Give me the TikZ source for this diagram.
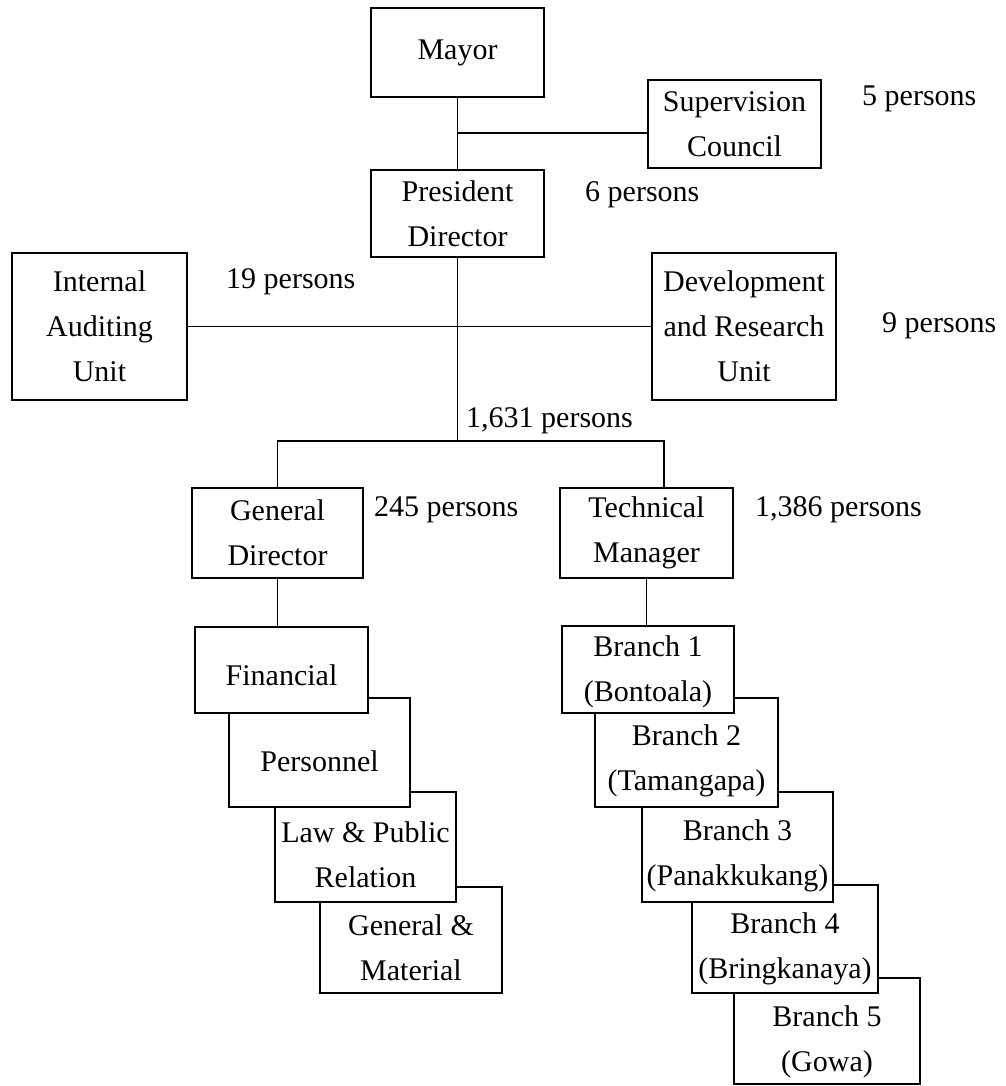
\documentclass[tikz,border=0pt]{standalone}
\usepackage{fontspec}
\setmainfont{Liberation Serif}
\begin{document}
\begin{tikzpicture}[x=1pt,y=-1pt,
  unit/.style={draw, line width=1.8pt, fill=white, inner sep=0pt, align=center,
    font=\fontsize{30}{45}\selectfont},
  caption/.style={inner sep=0pt, align=center, font=\fontsize{30}{45}\selectfont},
  tag/.style={inner sep=0pt, anchor=west, font=\fontsize{30}{36}\selectfont},
  wire/.style={line width=1.4pt}]
\useasboundingbox[fill=white] (0,0) rectangle (1005,1086);

% upper levels
\node[unit, minimum width=173pt, minimum height=89pt] (mayor) at (457.5,52.5) {Mayor};
\node[unit, minimum width=173pt, minimum height=88pt] (sup) at (734.5,124) {Supervision\\Council};
\node[unit, minimum width=173pt, minimum height=87pt] (pres) at (457.5,213.5) {President\\Director};
\node[unit, minimum width=175pt, minimum height=147pt] (audit) at (99.5,326.5) {Internal\\Auditing\\Unit};
\node[unit, minimum width=184pt, minimum height=147pt] (devres) at (744,326.5) {Development\\and Research\\Unit};
\node[unit, minimum width=171pt, minimum height=90pt] (gendir) at (277.5,533) {General\\Director};
\node[unit, minimum width=173pt, minimum height=90pt] (techman) at (646.5,533) {Technical\\Manager};

% staff counts
\node[tag] (n5) at (862,99) {5 persons};
\node[tag] (n6) at (585,195) {6 persons};
\node[tag] (n19) at (226,282) {19 persons};
\node[tag] (n9) at (882,326) {9 persons};
\node[tag] (n1631) at (466,421) {1,631 persons};
\node[tag] (n245) at (374,510) {245 persons};
\node[tag] (n1386) at (755,510) {1,386 persons};

% connectors
\coordinate (jsup) at (457.5,133);
\coordinate (jbar) at (457.5,441);
\coordinate (jright) at (664,441);
\draw[wire] (mayor.south) -- (pres.north);
\draw[wire] (jsup) -- (jsup -| sup.west);
\draw[wire] (audit.east) -- (devres.west);
\draw[wire] (pres.south) -- (jbar);
\draw[wire] (gendir.north) -- (gendir.north |- jbar) -- (jright) -- (jright |- techman.north);

% departments under the general director (stacked, front box last)
\node[unit, minimum width=182pt, minimum height=106pt] (genmat) at (411,940) {};
\node[caption] (genmatT) at (411,948) {General \&\\Material};
\node[unit, minimum width=181pt, minimum height=110pt] (lawpr) at (365.5,847) {};
\node[caption] (lawprT) at (365.5,855) {Law \& Public\\Relation};
\node[unit, minimum width=181pt, minimum height=109pt] (pers) at (319.5,752.5) {};
\node[caption] (persT) at (319.5,761) {Personnel};
\node[unit, minimum width=173pt, minimum height=86pt] (fin) at (281.5,670) {};
\node[caption] (finT) at (281.5,675) {Financial};

% branches under the technical manager (stacked, front box last)
\node[unit, minimum width=186pt, minimum height=106pt] (br5) at (827,1031) {};
\node[caption] (br5T) at (827,1042) {Branch 5\\(Gowa)};
\node[unit, minimum width=186pt, minimum height=108pt] (br4) at (785,939) {};
\node[caption] (br4T) at (785,949) {Branch 4\\(Bringkanaya)};
\node[unit, minimum width=191pt, minimum height=110pt] (br3) at (737.5,847) {};
\node[caption] (br3T) at (737.5,856) {Branch 3\\(Panakkukang)};
\node[unit, minimum width=183pt, minimum height=109pt] (br2) at (686.5,752.5) {};
\node[caption] (br2T) at (686.5,761) {Branch 2\\(Tamangapa)};
\node[unit, minimum width=172pt, minimum height=87pt] (br1) at (648,669.5) {};
\node[caption] (br1T) at (648,672) {Branch 1\\(Bontoala)};

\draw[wire] (gendir.south) -- (gendir.south |- fin.north);
\draw[wire] (techman.south) -- (techman.south |- br1.north);
\end{tikzpicture}
\end{document}
